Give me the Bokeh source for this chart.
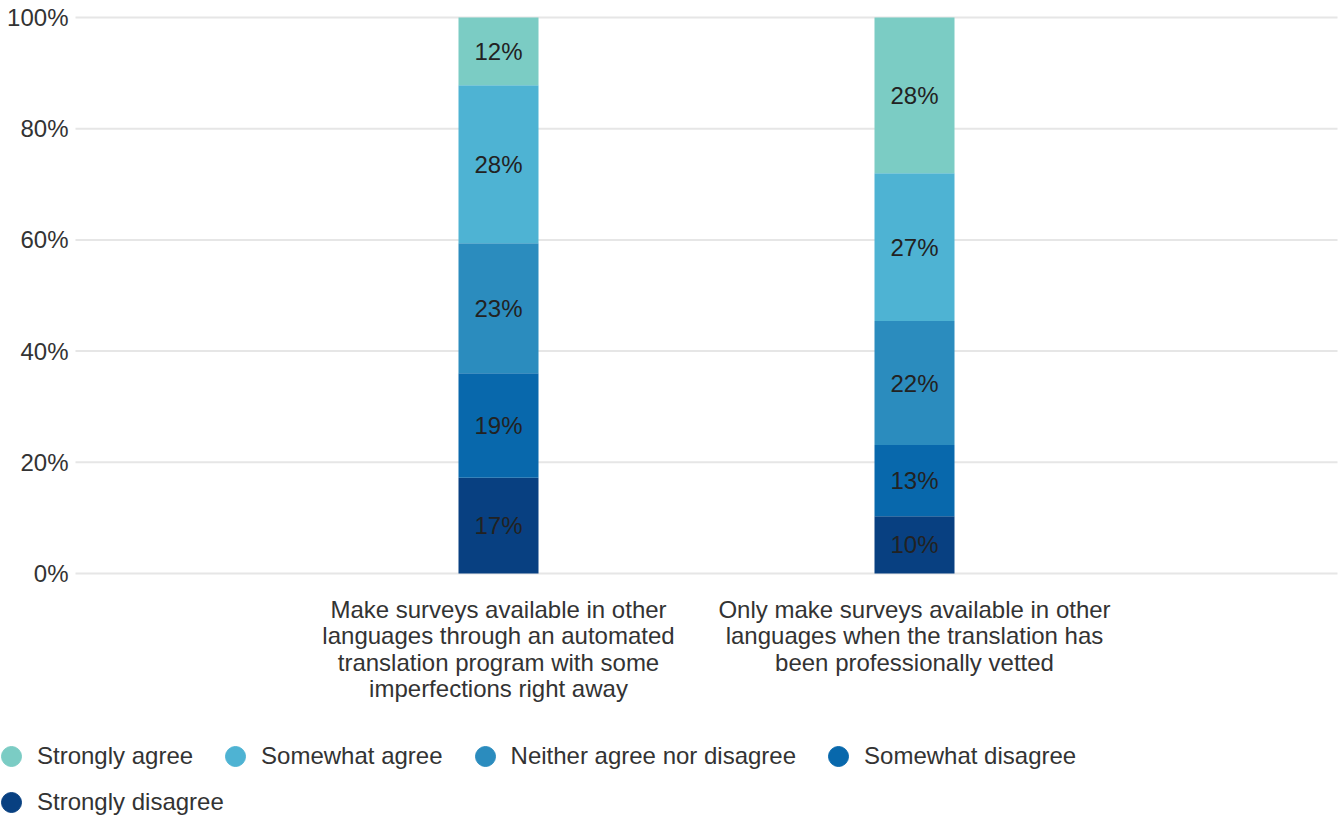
from bokeh.plotting import figure
from bokeh.models import ColumnDataSource, Range1d, Legend, LegendItem
from bokeh.core.properties import value
from bokeh.embed import file_html
from bokeh.resources import INLINE

# ---- data ----
categories = [
    "Make surveys available in other\nlanguages through an automated\ntranslation program with some\nimperfections right away",
    "Only make surveys available in other\nlanguages when the translation has\nbeen professionally vetted",
]
# stacked bottom -> top
series_names = ["Strongly disagree", "Somewhat disagree", "Neither agree nor disagree",
                "Somewhat agree", "Strongly agree"]
strongly_disagree = [17.2, 10.3]
somewhat_disagree = [18.8, 12.8]
neither = [23.4, 22.3]
somewhat_agree = [28.4, 26.6]
strongly_agree = [12.2, 28.0]
colors = ["#084081", "#0868ac", "#2b8cbe", "#4eb3d3", "#7bccc4"]
y_ticks = [0, 20, 40, 60, 80, 100]
y_tick_labels = ["0%", "20%", "40%", "60%", "80%", "100%"]

# ---- layout constants (pixels) ----
W, H = 1343, 818
CAT_SPACING_PX = 416.0       # distance between the two bar centres
FIRST_CAT_PX = 498.0         # centre of first bar
PLOT_LEFT_PX, PLOT_RIGHT_PX = 75.0, 1337.0
PLOT_TOP_PX, PLOT_BOTTOM_PX = 17.0, 573.0

x_start = -FIRST_CAT_PX / CAT_SPACING_PX
x_end = x_start + W / CAT_SPACING_PX
px_per_pct = (PLOT_BOTTOM_PX - PLOT_TOP_PX) / 100.0
y_start = -(H - PLOT_BOTTOM_PX) / px_per_pct
y_end = 100 + PLOT_TOP_PX / px_per_pct

def x_of_px(px):
    return x_start + px / CAT_SPACING_PX

def y_of_px(py):
    return (PLOT_BOTTOM_PX - py) / px_per_pct

FONT = "Liberation Sans"
FS = "24px"
TXT = "#333333"

series = [strongly_disagree, somewhat_disagree, neither, somewhat_agree, strongly_agree]
keys = ["sd", "swd", "n", "swa", "sa"]
xs = list(range(len(categories)))
data = {"x": xs}
for k, s in zip(keys, series):
    data[k] = s
src = ColumnDataSource(data)

p = figure(x_range=Range1d(x_start, x_end), y_range=Range1d(y_start, y_end),
           width=W, height=H, min_border=0,
           x_axis_location=None, y_axis_location=None,
           output_backend="svg", toolbar_location=None)
p.outline_line_color = None
p.background_fill_color = "white"
p.grid.visible = False

# horizontal gridlines at the y ticks
p.segment(x0=[x_of_px(PLOT_LEFT_PX)] * len(y_ticks), x1=[x_of_px(PLOT_RIGHT_PX)] * len(y_ticks),
          y0=y_ticks, y1=y_ticks, line_color="#e6e6e6", line_width=2)

# y tick labels
p.text(x=[x_of_px(68)] * len(y_ticks), y=y_ticks, text=y_tick_labels,
       text_align="right", text_baseline="middle",
       text_font=value(FONT), text_font_size=FS, text_color=TXT)

# stacked bars
p.vbar_stack(keys, x="x", width=80 / CAT_SPACING_PX, color=colors, line_color=None, source=src)

# segment labels
lx, ly, lt = [], [], []
for i in xs:
    base = 0.0
    for s in series:
        v = s[i]
        lx.append(i)
        ly.append(base + v / 2)
        lt.append(f"{round(v)}%")
        base += v
p.text(x=lx, y=ly, text=lt, text_align="center", text_baseline="middle",
       text_font=value(FONT), text_font_size=FS, text_color="#222222")

# category labels (multi-line)
p.text(x=xs, y=[y_of_px(595)] * len(xs), text=categories,
       text_align="center", text_baseline="top", text_line_height=0.985,
       text_font=value(FONT), text_font_size=FS, text_color=TXT)

# ---- legend (dummy circle renderers, points lie outside the visible range) ----
rends = {}
for i in range(5):
    rends[i] = p.scatter(x=[-100], y=[-1000], marker="circle", color=colors[i])

def make_legend(idx_list, loc):
    items = [LegendItem(label=series_names[i], renderers=[rends[i]]) for i in idx_list]
    return Legend(items=items, orientation="horizontal", location=loc,
                  glyph_width=50, glyph_height=50, label_standoff=1, spacing=17,
                  padding=0, margin=0, border_line_color=None, background_fill_alpha=0,
                  label_text_font=FONT, label_text_font_size=FS, label_text_color=TXT)

p.add_layout(make_legend([4, 3, 2, 1], (-14, 37)))
p.add_layout(make_legend([0], (-14, -9)))

open("out.html", "w").write(file_html(p, INLINE))
